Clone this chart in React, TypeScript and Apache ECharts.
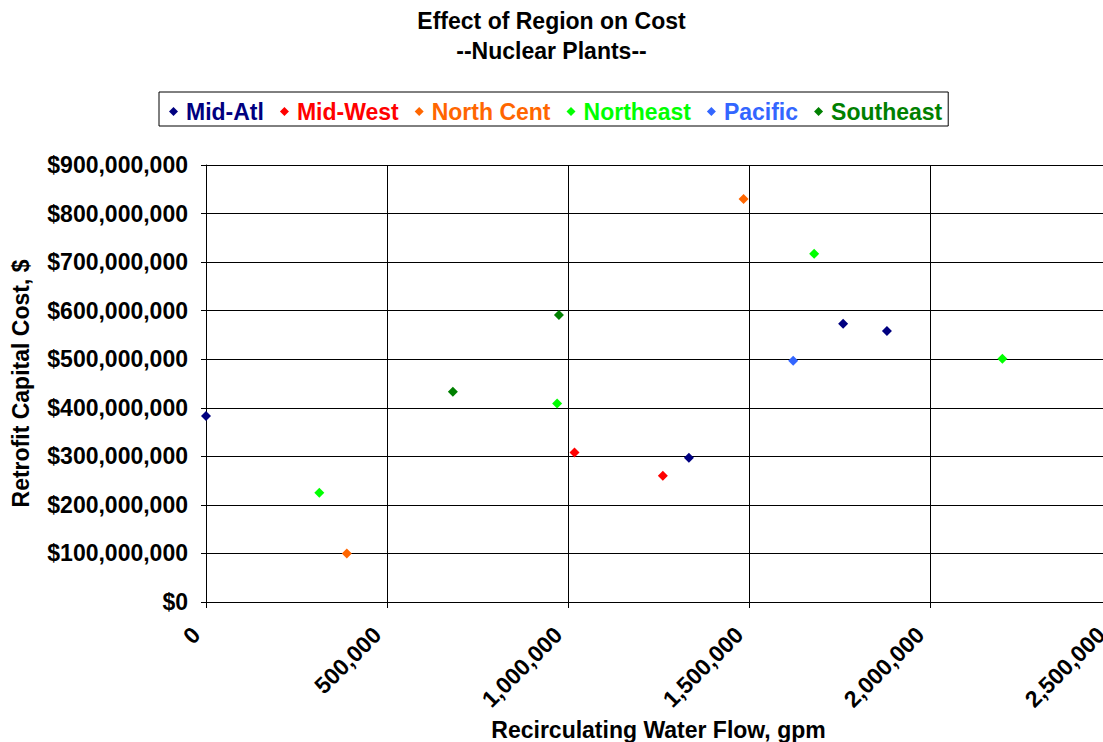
import React, { useEffect, useRef } from "react";
import * as echarts from "echarts";

const FONT = '"Liberation Sans", Arial, sans-serif';

const seriesNames = ["Mid-Atl", "Mid-West", "North Cent", "Northeast", "Pacific", "Southeast"];
const seriesColors = ["#000080", "#FF0000", "#FF6600", "#00FF00", "#3366FF", "#008000"];

const midAtl: [number, number][] = [
  [0, 383000000],
  [1334000, 297000000],
  [1760000, 573000000],
  [1881000, 558000000],
];
const midWest: [number, number][] = [
  [1018000, 308000000],
  [1262000, 260000000],
];
const northCent: [number, number][] = [
  [389000, 100000000],
  [1485000, 830000000],
];
const northeast: [number, number][] = [
  [313000, 225000000],
  [970000, 409000000],
  [1680000, 717000000],
  [2200000, 501000000],
];
const pacific: [number, number][] = [[1622000, 497000000]];
const southeast: [number, number][] = [
  [682000, 433000000],
  [975000, 591000000],
];

const seriesData = [midAtl, midWest, northCent, northeast, pacific, southeast];

const xTicks = { min: 0, max: 2500000, interval: 500000 };
const yTicks = { min: 0, max: 900000000, interval: 100000000 };

function fmt(n: number): string {
  return Math.round(n).toString().replace(/\B(?=(\d{3})+(?!\d))/g, ",");
}

export default function App() {
  const ref = useRef<HTMLDivElement>(null);
  useEffect(() => {
    if (!ref.current) return;
    const chart = echarts.init(ref.current, undefined, { renderer: "svg" });
    chart.setOption({
      animation: false,
      backgroundColor: "#ffffff",
      title: {
        text: "Effect of Region on Cost\n--Nuclear Plants--",
        left: "center",
        top: 1,
        textStyle: { fontFamily: FONT, fontSize: 23, fontWeight: "bold", color: "#000", lineHeight: 30 },
      },
      legend: {
        left: 159,
        top: 92,
        orient: "horizontal",
        icon: "diamond",
        itemWidth: 9,
        itemHeight: 9,
        itemGap: 16,
        padding: [8, 6, 3, 10],
        borderColor: "#000",
        borderWidth: 1,
        data: seriesNames.map((n, i) => ({
          name: n,
          textStyle: { color: seriesColors[i] },
        })),
        textStyle: { fontFamily: FONT, fontSize: 23, fontWeight: "bold", padding: [0, 0, 0, 3] },
      },
      grid: { left: 206, top: 165, right: -8, bottom: 140, containLabel: false, outerBoundsMode: "none" },
      xAxis: {
        type: "value",
        min: xTicks.min,
        max: xTicks.max,
        interval: xTicks.interval,
        name: "Recirculating Water Flow, gpm",
        nameLocation: "middle",
        nameGap: 116,
        nameTextStyle: { fontFamily: FONT, fontSize: 23, fontWeight: "bold", color: "#000" },
        axisLine: { show: true, lineStyle: { color: "#000", width: 1 } },
        axisTick: { show: true, length: 6, lineStyle: { color: "#000" } },
        splitLine: { show: true, lineStyle: { color: "#000", width: 1 } },
        axisLabel: {
          rotate: 45,
          margin: 19,
          padding: [0, 14, 0, 0],
          fontFamily: FONT,
          fontSize: 23,
          fontWeight: "bold",
          color: "#000",
          showMaxLabel: true,
          formatter: (v: number) => fmt(v),
        },
      },
      yAxis: {
        type: "value",
        min: yTicks.min,
        max: yTicks.max,
        interval: yTicks.interval,
        name: "Retrofit Capital Cost, $",
        nameLocation: "middle",
        nameGap: 174,
        nameRotate: 90,
        nameTextStyle: { fontFamily: FONT, fontSize: 23, fontWeight: "bold", color: "#000" },
        axisLine: { show: true, lineStyle: { color: "#000", width: 1 } },
        axisTick: { show: true, length: 5, inside: false, lineStyle: { color: "#000" } },
        splitLine: { show: true, lineStyle: { color: "#000", width: 1 } },
        axisLabel: {
          margin: 18,
          fontFamily: FONT,
          fontSize: 23,
          fontWeight: "bold",
          color: "#000",
          formatter: (v: number) => "$" + fmt(v),
        },
      },
      series: seriesNames.map((n, i) => ({
        name: n,
        type: "scatter",
        symbol: "diamond",
        symbolSize: 10,
        itemStyle: { color: seriesColors[i], opacity: 1 },
        data: seriesData[i],
      })),
    });
    return () => chart.dispose();
  }, []);
  return (
    <div
      ref={ref}
      style={{ position: "absolute", left: 0, top: 0, width: 1103, height: 742, overflow: "hidden" }}
    />
  );
}
